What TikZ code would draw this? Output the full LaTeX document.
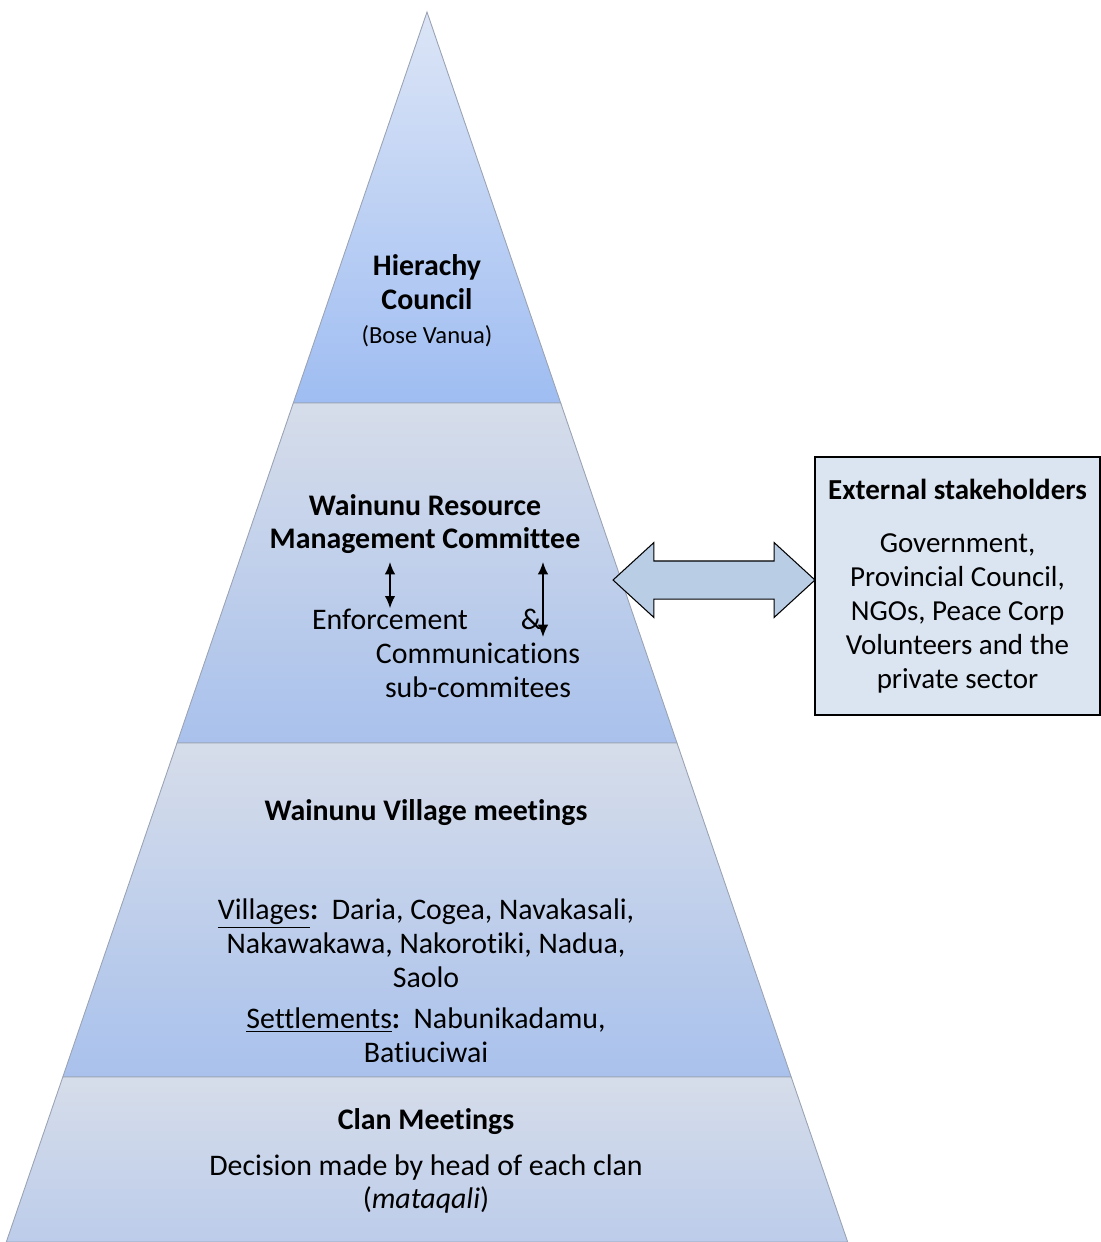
\documentclass[tikz,border=0pt]{standalone}
\usepackage{fontspec}
\setmainfont[Ligatures=NoCommon]{Carlito}
\usetikzlibrary{arrows,arrows.meta,shapes.arrows,calc}

\definecolor{apexblue}{HTML}{DCE5F6}
\definecolor{councilblue}{HTML}{9FBDF2}
\definecolor{layertop}{HTML}{D6DDEA}
\definecolor{layerbot}{HTML}{A9C1EC}
\definecolor{clanbot}{HTML}{BCCCEA}
\definecolor{edgegray}{HTML}{9AA3B3}
\definecolor{boxfill}{HTML}{DBE5F1}
\definecolor{arrowfill}{HTML}{B9CDE5}

\begin{document}
\begin{tikzpicture}[x=0.02cm,y=-0.02cm,
		lbl/.style={align=center, inner sep=0pt, font=\fontsize{17}{19.3}\selectfont},
		layer/.style={draw=edgegray, line width=0.5pt, top color=layertop, bottom color=layerbot},
		subarrow/.style={{Latex[length=7pt,width=6pt]}-{Latex[length=7pt,width=6pt]}, line width=1pt}]
		\useasboundingbox (0,0) rectangle (1101,1242);

		% pyramid layers
		\draw[draw=edgegray, line width=0.5pt, top color=apexblue, bottom color=councilblue] (427,12) -- (560.7,403) -- (293.3,403) -- cycle;
		\draw[layer] (293.3,403) -- (560.7,403) -- (677,743) -- (177,743) -- cycle;
		\draw[layer] (177,743) -- (677,743) -- (791.2,1077) -- (62.8,1077) -- cycle;
		\draw[layer, bottom color=clanbot] (62.8,1077) -- (791.2,1077) -- (847.7,1242) -- (6.3,1242) -- cycle;

		% top: council
		\draw (427,301) node[lbl](council){\textbf{Hierachy}\\\textbf{Council}\\{\fontsize{14}{16}\selectfont (Bose Vanua)}};

		% committee and sub-committees
		\draw (425,524) node[lbl](wrmc){\textbf{Wainunu Resource}\\\textbf{Management Committee}};
		\draw (390,619) node[lbl](enf){Enforcement};
		\draw (531,619) node[lbl](amp){\&};
		\draw (478,670) node[lbl](comm){Communications\\sub-commitees};
		\coordinate (commtop) at (543,562);
		\coordinate (commend) at (543,637);
		\draw[subarrow] (enf.north |- commtop) -- (enf.north);
		\draw[subarrow] (commtop) -- (commend);

		% village meetings
		\draw (426,813) node[lbl](village){\textbf{Wainunu Village meetings}};
		\draw (426,943) node[lbl](villages){\underline{Villages}\textbf{:}\ \ Daria, Cogea, Navakasali,\\Nakawakawa, Nakorotiki, Nadua,\\Saolo};
		\draw (426,1035) node[lbl](settle){\underline{Settlements}\textbf{:}\ \ Nabunikadamu,\\Batiuciwai};

		% clan meetings
		\draw (426,1122) node[lbl](clan){\textbf{Clan Meetings}};
		\draw (426,1184) node[lbl](decision){Decision made by head of each clan\\(\textit{mataqali})};

		% external stakeholders
		\draw (957.5,586) node[draw, line width=0.8pt, fill=boxfill, minimum width=5.7cm, minimum height=5.16cm, align=center, font=\fontsize{16.5}{19.3}\selectfont](ext){\textbf{External stakeholders}\\[0.4cm]Government,\\Provincial Council,\\NGOs, Peace Corp\\Volunteers and the\\private sector};
		\draw (714,580) node[double arrow, draw, line width=0.6pt, fill=arrowfill, minimum height=4.04cm, inner xsep=0pt, inner ysep=0.37cm, double arrow head extend=0.37cm, double arrow tip angle=85](link){};

	\end{tikzpicture}
\end{document}
